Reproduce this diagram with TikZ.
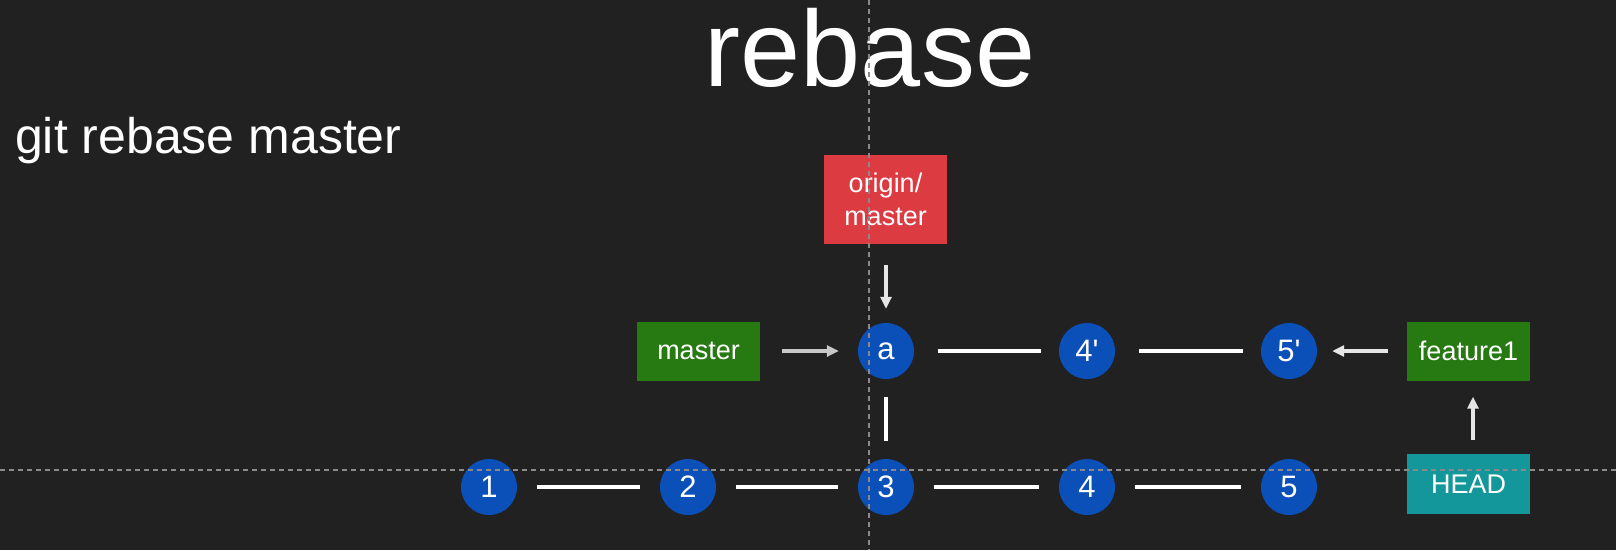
\documentclass[tikz,border=0pt]{standalone}
\usepackage{fontspec}
\setmainfont{Liberation Sans}
\newfontfamily\plainsans{Liberation Sans}[Ligatures=TeXOff]
\usetikzlibrary{arrows.meta}
\definecolor{bg}{HTML}{212121}
\definecolor{cblue}{HTML}{0B50B8}
\definecolor{cred}{HTML}{DC3B42}
\definecolor{cgreen}{HTML}{277912}
\definecolor{cteal}{HTML}{13979A}
\definecolor{guide}{HTML}{8A8A8A}
\definecolor{arr}{HTML}{E6E6E6}
\tikzset{
  commit/.style={circle,fill=cblue,minimum size=56pt,inner sep=0pt,text=white,font=\plainsans\fontsize{31}{34}\selectfont},
  label/.style={rectangle,minimum width=123pt,minimum height=59pt,inner sep=0pt,text=white,align=center,font=\fontsize{27}{33}\selectfont},
  link/.style={draw=white,line width=3.5pt,shorten <=20pt,shorten >=20pt},
  ptr/.style={draw=arr,line width=3.5pt,-{Triangle[length=12pt,width=11pt]}},
  guideline/.style={draw=guide,line width=1.3pt,dash pattern=on 5pt off 4pt}
}
\begin{document}
\begin{tikzpicture}[x=1pt,y=-1pt]
\fill[bg] (0,0) rectangle (1616,550);
\useasboundingbox (0,0) rectangle (1616,550);
\node[anchor=base,text=white,font=\fontsize{108}{120}\selectfont,inner sep=0pt] (title) at (870,86) {rebase};
\node[anchor=base west,text=white,font=\fontsize{50}{60}\selectfont,inner sep=0pt] (cmd) at (15,153) {git rebase master};
% commits
\node[commit] (c1) at (489,487) {1};
\node[commit] (c2) at (688,487) {2};
\node[commit] (c3) at (886,487) {3};
\node[commit] (c4) at (1087,487) {4};
\node[commit] (c5) at (1289,487) {5};
\node[commit] (ca) at (886,351) {a};
\node[commit] (c4p) at (1087,351) {4'};
\node[commit] (c5p) at (1289,351) {5'};
% labels
\node[label,fill=cred,minimum height=89pt] (om) at (885.5,199.5) {origin/\\master};
\node[label,fill=cgreen] (master) at (698.5,351) {master};
\node[label,fill=cgreen] (feat) at (1468.5,351) {feature1};
\node[label,fill=cteal,minimum height=60pt] (head) at (1468.5,484) {HEAD};
% links
\draw[link] (c1) -- (c2);
\draw[link] (c2) -- (c3);
\draw[link] (c3) -- (c4);
\draw[link] (c4) -- (c5);
\draw[link,shorten <=24pt,shorten >=18pt] (ca) -- (c4p);
\draw[link,shorten <=24pt,shorten >=18pt] (c4p) -- (c5p);
\draw[link,shorten <=18pt,shorten >=18pt] (ca) -- (c3);
% pointers
\draw[ptr,shorten <=21pt,shorten >=14pt] (om.south -| ca) -- (ca.north);
\draw[ptr,draw=arr!85!bg,shorten <=22pt,shorten >=19pt] (master.east) -- (ca.west);
\draw[ptr,shorten <=19pt,shorten >=15pt] (feat.west) -- (c5p.east);
\draw[ptr,shorten <=14pt,shorten >=16pt] ([xshift=4.5pt]head.north) -- ([xshift=4.5pt]feat.south);
% guides
\coordinate (gt) at (869,0);
\coordinate (gb) at (869,550);
\coordinate (gl) at (0,470);
\coordinate (gr) at (1616,470);
\draw[guideline] (gt) -- (gb);
\draw[guideline] (gl) -- (gr);
\end{tikzpicture}
\end{document}
